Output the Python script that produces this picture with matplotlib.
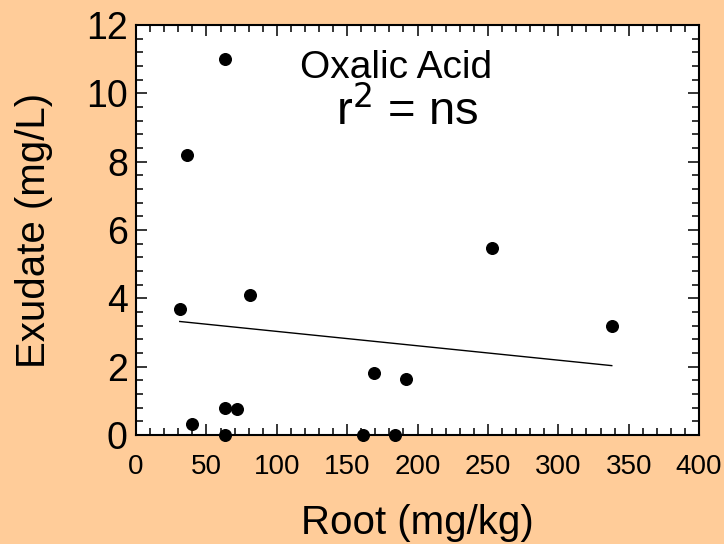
import numpy as np
from matplotlib import pyplot as plt
from matplotlib.ticker import MultipleLocator

plt.rcParams['font.family'] = ['Liberation Sans', 'DejaVu Sans']

# root (mg/kg) vs exudate (mg/L)
root = [63, 36, 31, 81, 40, 63, 72, 63, 161, 184, 169, 192, 253, 338]
exudate = [11.0, 8.2, 3.7, 4.1, 0.33, 0.8, 0.75, 0.0, 0.0, 0.0, 1.81, 1.64, 5.47, 3.19]
title = 'Oxalic Acid'
stat = r'r$^{2}$ = ns'

bg = '#FFCC99'
fig = plt.figure(figsize=(7.24, 5.44), dpi=100, facecolor=bg)
ax = fig.add_axes([0.188, 0.2004, 0.7775, 0.7536])

ax.scatter(root, exudate, s=70, color='k', zorder=3, clip_on=False)

# least squares line over the data range
slope, icpt = np.polyfit(root, exudate, 1)
xs = np.array([min(root), max(root)])
ax.plot(xs, slope * xs + icpt, color='k', lw=1)

ax.set_xlim(0, 400)
ax.set_ylim(0, 12)
ax.xaxis.set_major_locator(MultipleLocator(50))
ax.xaxis.set_minor_locator(MultipleLocator(10))
ax.yaxis.set_major_locator(MultipleLocator(2))
ax.yaxis.set_minor_locator(MultipleLocator(0.4))
ax.tick_params(which='both', direction='in', top=True, right=True, width=1.1)
ax.tick_params(which='major', length=8)
ax.tick_params(which='minor', length=5)
ax.tick_params(axis='x', labelsize=20, pad=14)
ax.tick_params(axis='y', labelsize=27, pad=6)
for s in ax.spines.values():
    s.set_linewidth(1.5)

ax.set_xlabel('Root (mg/kg)', fontsize=29, labelpad=17)
ax.set_ylabel('Exudate (mg/L)', fontsize=29, labelpad=24)

ax.text(0.462, 0.895, title, transform=ax.transAxes, ha='center', va='center', fontsize=28)
ax.text(0.482, 0.79, stat, transform=ax.transAxes, ha='center', va='center', fontsize=34)

fig.savefig('out.png', dpi=100, facecolor=bg)
